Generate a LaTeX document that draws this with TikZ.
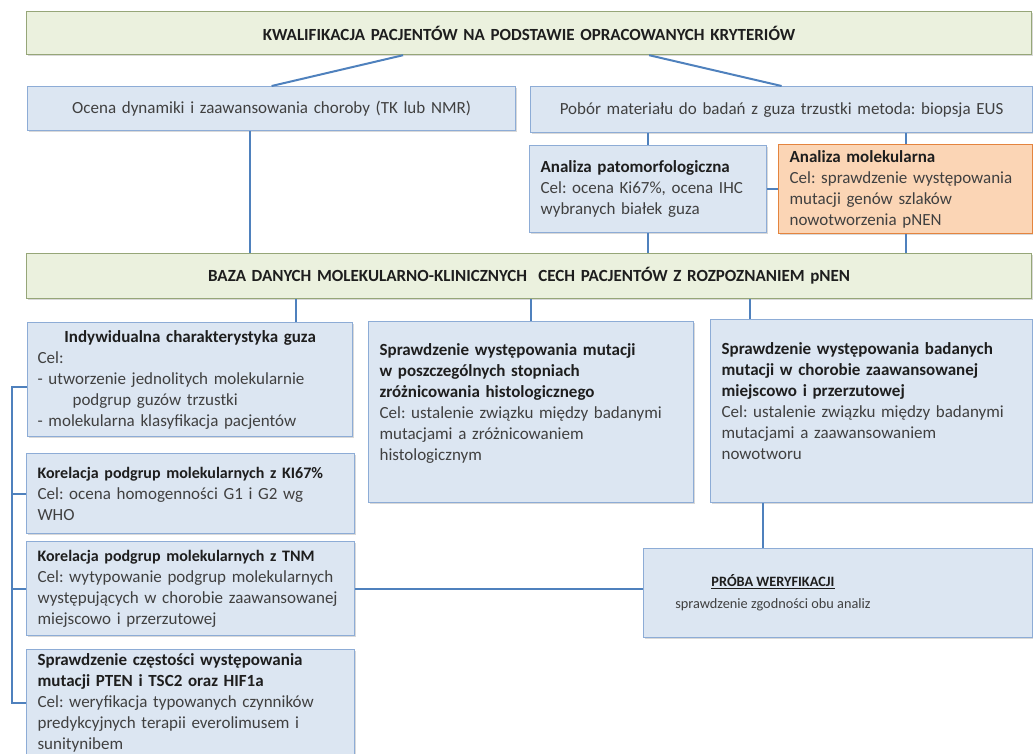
\documentclass[tikz,border=0pt]{standalone}
\usepackage{fontspec}
\setmainfont{Carlito}
\usetikzlibrary{shadows}
\frenchspacing

\definecolor{boxfill}{RGB}{220,230,242}
\definecolor{boxline}{RGB}{141,172,214}
\definecolor{barfill}{RGB}{235,241,222}
\definecolor{barline}{RGB}{150,166,120}
\definecolor{molfill}{RGB}{251,213,181}
\definecolor{molline}{RGB}{228,132,62}
\definecolor{linkblue}{RGB}{79,129,189}
\definecolor{txtgray}{RGB}{64,64,64}
\definecolor{txtdark}{RGB}{30,30,30}

\tikzset{
    basebox/.style={draw, line width=1.2pt, anchor=north west, inner xsep=10pt, inner ysep=0pt,
        align=left, text=txtgray, font=\fontsize{17}{21}\selectfont,
        drop shadow={shadow xshift=1.5pt, shadow yshift=-1.5pt, opacity=0.3}},
    bluebox/.style={basebox, fill=boxfill, draw=boxline},
    molbox/.style={basebox, fill=molfill, draw=molline},
    greenbar/.style={basebox, fill=barfill, draw=barline, align=center, text=txtdark},
    link/.style={draw=linkblue, line width=2pt}
}

\newcommand{\hd}[1]{{\bfseries\color{txtdark}#1}}
\newcommand{\hdsmall}[1]{{\fontsize{16}{21}\selectfont\bfseries\color{txtdark}#1}}

\begin{document}
\begin{tikzpicture}[x=1pt, y=-1pt]
    \useasboundingbox (0,0) rectangle (1033,753);
    \clip (0,0) rectangle (1033,753);

    % banners
    \node[greenbar, minimum width=1005pt, minimum height=43pt, text width=983pt] (kwal) at (26,11)
        {\bfseries KWALIFIKACJA PACJENTÓW NA PODSTAWIE OPRACOWANYCH KRYTERIÓW};
    \node[greenbar, minimum width=1005pt, minimum height=45pt, text width=983pt] (baza) at (26,253)
        {\bfseries BAZA DANYCH MOLEKULARNO-KLINICZNYCH\ \ CECH PACJENTÓW Z ROZPOZNANIEM pNEN};

    % upper row
    \node[bluebox, align=center, minimum width=488pt, minimum height=44pt, text width=466pt] (ocena) at (27,86)
        {Ocena dynamiki i zaawansowania choroby (TK lub NMR)};
    \node[bluebox, align=center, minimum width=502pt, minimum height=46pt, text width=480pt] (pobor) at (530,86)
        {Pobór materiału do badań z guza trzustki metoda: biopsja EUS};
    \node[bluebox, minimum width=237pt, minimum height=87pt, text width=215pt] (patomorf) at (529,145)
        {\hd{Analiza patomorfologiczna}\\ Cel: ocena Ki67\%, ocena IHC\\ wybranych białek guza};
    \node[molbox, minimum width=254pt, minimum height=89pt, text width=232pt] (molek) at (778,144)
        {\hd{Analiza molekularna}\\ Cel: sprawdzenie występowania\\ mutacji genów szlaków\\ nowotworzenia pNEN};

    % left column
    \node[bluebox, minimum width=325pt, minimum height=114pt, text width=305pt, inner xsep=8pt] (indyw) at (27,322)
        {\makebox[305pt]{\hd{Indywidualna charakterystyka guza}}\\ Cel:\\ - utworzenie jednolitych molekularnie\\
         \hspace*{35pt}podgrup guzów trzustki\\ - molekularna klasyfikacja pacjentów};
    \node[bluebox, minimum width=328pt, minimum height=80pt, text width=306pt] (ki67) at (26,453)
        {\hdsmall{Korelacja podgrup molekularnych z KI67\%}\\ Cel: ocena homogenności G1 i G2 wg\\ WHO};
    \node[bluebox, minimum width=328pt, minimum height=94pt, text width=306pt] (tnm) at (26,541)
        {\hdsmall{Korelacja podgrup molekularnych z TNM}\\ Cel: wytypowanie podgrup molekularnych\\
         występujących w chorobie zaawansowanej\\ miejscowo i przerzutowej};
    \node[bluebox, minimum width=328pt, minimum height=106pt, text width=306pt] (czest) at (26,649)
        {\hd{Sprawdzenie częstości występowania}\\ \hd{mutacji PTEN i TSC2 oraz HIF1a}\\
         Cel: weryfikacja typowanych czynników\\ predykcyjnych terapii everolimusem i\\ sunitynibem};

    % middle and right
    \node[bluebox, minimum width=325pt, minimum height=181pt, text width=303pt] (mid) at (368,321)
        {\hd{Sprawdzenie występowania mutacji}\\ \hd{w poszczególnych stopniach}\\ \hd{zróżnicowania histologicznego}\\
         Cel: ustalenie związku między badanymi\\ mutacjami a zróżnicowaniem\\ histologicznym\\ \mbox{}};
    \node[bluebox, minimum width=322pt, minimum height=183pt, text width=300pt] (right) at (710,319)
        {\hd{Sprawdzenie występowania badanych}\\ \hd{mutacji w chorobie zaawansowanej}\\ \hd{miejscowo i przerzutowej}\\
         Cel: ustalenie związku między badanymi\\ mutacjami a zaawansowaniem\\ nowotworu\\ \mbox{}};
    \node[bluebox, minimum width=389pt, minimum height=89pt] (proba) at (643,548) {};
    \node[align=center, text=txtgray, font=\fontsize{14.3}{22}\selectfont] (probatxt) at (773,593)
        {\hd{\underline{PRÓBA WERYFIKACJI}}\\ sprawdzenie zgodności obu analiz};

    % connectors
    \draw[link] ([xshift=-126pt]kwal.south) -- (ocena.north);
    \draw[link] ([xshift=120pt]kwal.south) -- (pobor.north);
    \draw[link] ([xshift=-22pt]ocena.south) -- ([xshift=-22pt]ocena.south |- baza.north);
    \draw[link] (pobor.south -| patomorf.north) -- (patomorf.north);
    \draw[link] (pobor.south -| molek.north) -- (molek.north);
    \draw[link] (patomorf.east) -- (patomorf.east -| molek.west);
    \draw[link] (patomorf.south) -- (patomorf.south |- baza.north);
    \draw[link] (molek.south) -- (molek.south |- baza.north);
    \draw[link] ([xshift=106pt]indyw.north) -- ([xshift=106pt]indyw.north |- baza.south);
    \draw[link] (mid.north) -- (mid.north |- baza.south);
    \draw[link] ([xshift=-122pt]right.north) -- ([xshift=-122pt]right.north |- baza.south);
    \draw[link] ([xshift=-109pt]right.south) -- ([xshift=-109pt]right.south |- proba.north);
    \draw[link] (tnm.east) -- (tnm.east -| proba.west);

    % left bracket
    \coordinate (brkbot) at (12,703);
    \draw[link] ([yshift=-7pt]indyw.west) -| (brkbot) -- (brkbot -| czest.west);
    \draw[link] (ki67.west) -- (ki67.west -| brkbot);
    \draw[link] (tnm.west) -- (tnm.west -| brkbot);
\end{tikzpicture}
\end{document}
